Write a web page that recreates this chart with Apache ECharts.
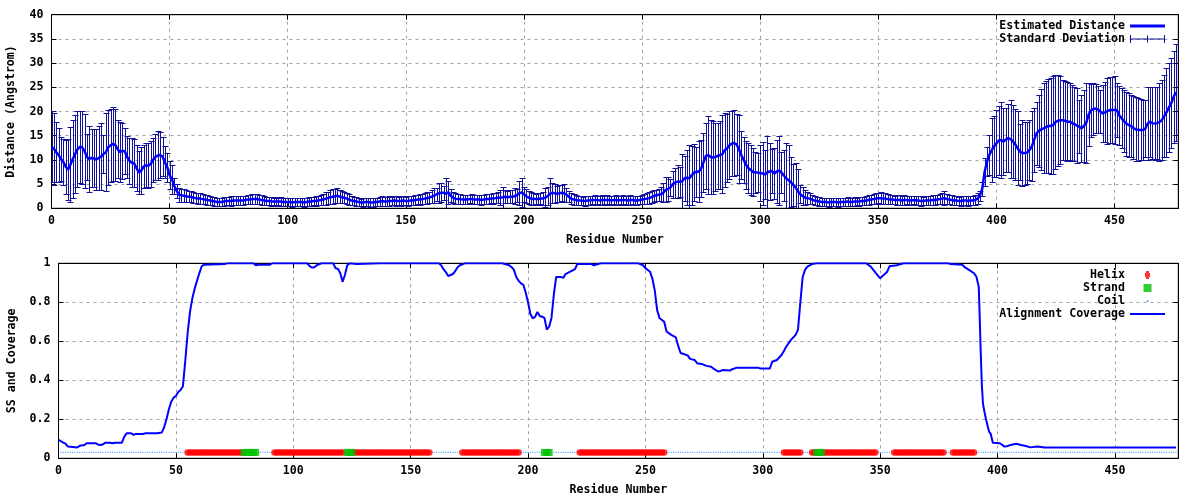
<!DOCTYPE html>
<html>
<head>
<meta charset="utf-8">
<script src="https://cdn.jsdelivr.net/npm/echarts@6/dist/echarts.min.js"></script>
<style>html,body{margin:0;padding:0;background:#fff}#chart{width:1200px;height:500px}</style>
</head>
<body>
<div id="chart"></div>
<script>
// ---------------- DATA ----------------
// residue range of both panels
const residueMax = 477;

// Estimated distance (Angstrom) for residues 0..476 (index = residue)
const distance = [
 12.7,12.3,11.6,11.0,10.2,9.6,8.6,8.0,9.0,10.2,
 11.2,12.2,12.7,12.6,11.8,10.6,10.2,10.4,10.3,10.1,
 10.4,10.7,11.2,11.6,12.6,13.0,13.3,13.1,12.2,11.6,
 11.9,11.8,10.6,9.8,9.4,9.3,8.3,7.4,7.8,8.6,
 8.9,8.8,9.2,10.0,10.6,10.9,11.0,10.7,9.5,8.5,
 6.8,6.0,4.6,3.6,2.8,2.7,2.6,2.5,2.4,2.4,
 2.2,2.1,2.0,2.0,1.9,1.8,1.7,1.6,1.5,1.4,
 1.3,1.3,1.3,1.4,1.5,1.5,1.5,1.6,1.6,1.6,
 1.6,1.6,1.7,1.8,1.8,1.9,1.9,1.9,1.8,1.7,
 1.6,1.5,1.5,1.4,1.4,1.4,1.4,1.4,1.3,1.3,
 1.3,1.3,1.2,1.3,1.3,1.3,1.3,1.2,1.3,1.4,
 1.4,1.5,1.5,1.6,1.7,1.8,2.0,2.1,2.3,2.4,
 2.5,2.6,2.4,2.3,2.2,2.0,1.8,1.6,1.5,1.4,
 1.3,1.2,1.2,1.3,1.3,1.2,1.2,1.3,1.3,1.4,
 1.5,1.4,1.4,1.5,1.5,1.6,1.5,1.5,1.5,1.6,
 1.5,1.5,1.6,1.6,1.7,1.8,1.8,1.9,2.0,2.1,
 2.2,2.4,2.6,2.9,3.1,3.2,3.2,3.0,3.3,2.6,
 2.2,2.0,1.9,1.9,1.8,1.8,1.8,1.9,1.9,1.8,
 1.8,1.8,1.7,1.8,1.9,1.9,2.0,2.0,2.1,2.2,
 2.2,2.3,2.4,2.3,2.4,2.4,2.5,2.7,3.1,3.3,
 2.9,2.5,2.2,2.0,1.9,1.9,1.9,2.0,2.0,2.2,
 2.5,3.0,3.2,3.1,3.0,3.1,3.2,3.1,2.8,2.4,
 2.0,1.8,1.7,1.6,1.6,1.5,1.5,1.6,1.6,1.7,
 1.7,1.7,1.6,1.7,1.7,1.7,1.7,1.6,1.7,1.7,
 1.6,1.7,1.7,1.7,1.6,1.7,1.7,1.6,1.6,1.7,
 1.8,1.9,2.0,2.1,2.3,2.5,2.7,2.8,2.9,3.2,
 3.8,4.0,4.3,5.0,5.3,5.5,5.5,5.6,6.2,6.3,
 6.2,6.8,7.4,7.5,7.6,8.2,9.5,10.8,11.0,10.6,
 10.5,10.6,10.8,11.0,11.2,12.0,12.4,13.0,13.4,13.5,
 13.2,12.2,11.0,10.0,9.0,8.3,7.9,7.5,7.4,7.4,
 7.3,7.2,7.0,7.4,7.6,7.7,7.2,7.6,7.8,7.4,
 6.8,6.2,5.8,5.4,4.8,4.3,3.5,2.9,2.5,2.2,
 2.1,2.0,1.8,1.6,1.5,1.4,1.3,1.3,1.3,1.2,
 1.3,1.3,1.3,1.2,1.3,1.3,1.3,1.4,1.3,1.3,
 1.4,1.4,1.4,1.5,1.5,1.6,1.7,1.8,1.9,2.0,
 2.1,2.1,2.0,2.0,1.9,1.8,1.8,1.7,1.7,1.7,
 1.6,1.7,1.7,1.6,1.6,1.7,1.6,1.6,1.5,1.5,
 1.6,1.6,1.6,1.7,1.7,1.8,1.9,2.0,2.1,1.9,
 1.8,1.7,1.6,1.6,1.5,1.5,1.6,1.6,1.5,1.6,
 1.6,1.7,2.0,2.6,4.0,7.5,9.6,11.0,12.0,12.8,
 13.4,14.0,14.1,13.8,14.2,14.5,14.3,13.8,13.2,12.4,
 11.7,11.4,11.4,11.5,12.0,12.8,14.2,15.5,16.0,16.3,
 16.5,16.8,17.0,17.0,17.2,17.8,18.1,18.2,18.2,18.1,
 17.9,17.9,17.6,17.4,17.1,16.9,16.5,17.0,17.6,19.3,
 20.2,20.5,20.6,20.4,20.0,19.6,19.8,20.1,20.3,20.3,
 20.3,20.3,19.2,18.6,18.0,17.5,17.2,17.0,16.6,16.3,
 16.2,16.2,16.2,16.4,17.5,17.9,17.6,17.5,17.6,17.8,
 18.2,19.0,19.8,20.8,21.7,23.0,24.0
];

// Standard deviation for residues 0..476
const stdDev = [
 7.3,7.4,6.2,5.5,4.5,4.8,5.6,6.3,7.8,8.0,
 8.0,7.8,7.5,7.6,7.6,4.8,6.8,6.0,6.0,6.3,
 6.6,7.0,4.0,8.0,7.7,7.5,7.6,7.5,6.0,6.2,
 5.8,4.8,4.3,4.7,5.1,5.0,4.8,4.5,4.9,4.5,
 4.5,4.6,4.7,4.5,4.8,5.0,4.8,4.0,3.3,3.0,
 2.9,3.0,1.6,1.5,1.4,1.3,1.3,1.3,1.2,1.2,
 1.1,1.1,1.1,1.2,1.0,1.0,1.0,0.9,0.9,0.9,
 0.8,0.9,0.9,1.0,0.9,0.9,1.0,1.0,0.9,0.9,
 1.0,1.0,0.9,1.0,1.0,1.0,1.0,1.1,1.0,1.0,
 0.9,0.9,0.9,0.9,0.8,0.9,0.8,0.9,0.8,0.8,
 0.9,0.8,0.9,0.8,0.8,0.9,0.8,0.9,0.9,0.9,
 1.0,0.9,1.0,1.0,1.1,1.2,1.3,1.3,1.4,1.5,
 1.4,1.5,1.3,1.3,1.2,1.1,1.1,1.0,0.9,0.9,
 0.9,0.8,0.9,0.9,0.8,0.9,0.9,0.9,0.8,0.9,
 1.0,0.9,0.9,1.0,0.9,1.0,1.0,0.9,1.0,1.0,
 0.9,1.0,1.0,0.9,1.0,1.0,1.1,1.0,1.1,1.2,
 1.2,1.4,1.6,1.3,2.1,2.0,1.5,3.2,2.4,1.4,
 1.2,1.1,1.0,1.0,0.9,1.0,1.0,0.9,1.0,1.0,
 0.9,1.0,1.0,0.9,1.0,1.0,1.0,1.1,1.1,1.2,
 1.5,2.2,1.3,1.2,1.4,1.3,1.6,1.3,2.5,3.0,
 1.6,1.4,1.3,1.3,1.2,1.1,1.2,1.2,1.3,1.9,
 1.8,3.2,2.1,2.0,1.7,1.8,1.6,1.9,1.4,1.2,
 1.1,1.1,1.0,1.0,1.0,0.9,1.0,0.9,1.0,0.9,
 1.0,0.9,1.0,1.0,0.9,1.0,0.9,1.0,0.9,1.0,
 1.0,0.9,1.0,0.9,1.0,1.0,0.9,1.0,1.0,0.9,
 1.0,1.0,1.1,1.2,1.2,1.3,1.1,1.2,1.4,2.0,
 2.6,2.5,1.7,2.8,3.1,3.4,3.1,5.7,4.7,5.7,
 6.8,6.1,5.9,5.1,6.3,5.9,6.1,6.8,8.0,7.6,
 7.5,7.1,6.8,7.0,8.0,7.6,7.0,7.0,6.8,6.8,
 6.3,7.0,5.0,4.8,5.0,5.1,5.1,4.9,4.2,4.1,
 5.7,6.6,5.0,7.6,5.8,4.5,5.3,6.5,7.1,4.3,
 5.2,7.2,7.2,5.1,4.4,5.0,4.7,1.9,1.8,1.6,
 1.3,1.1,1.0,1.0,0.9,0.9,0.9,0.8,0.9,0.9,
 0.8,0.9,0.8,0.9,0.9,0.8,0.9,0.9,0.8,0.9,
 0.9,0.8,0.9,0.9,0.9,1.0,1.0,1.0,1.1,1.1,
 1.1,1.2,1.1,1.1,1.0,1.0,1.0,0.9,1.0,1.0,
 0.9,1.0,0.9,1.0,1.0,0.9,1.0,0.9,1.0,0.9,
 1.0,0.9,1.0,1.0,1.0,1.0,1.1,1.2,1.5,1.1,
 1.0,1.0,0.9,1.0,0.9,1.0,1.0,0.9,1.0,1.0,
 1.0,1.0,1.1,1.0,1.5,2.8,3.0,4.2,6.6,6.3,
 6.9,7.2,7.9,6.9,6.6,7.0,8.0,7.6,7.4,7.6,
 5.8,6.8,6.5,6.4,6.2,7.2,6.6,6.5,7.5,8.3,
 9.3,9.5,9.7,10.0,10.1,9.7,9.4,9.1,8.3,8.2,
 8.1,7.9,7.8,7.7,7.7,5.5,6.9,7.4,8.2,6.5,
 5.5,5.4,5.0,4.9,4.4,5.9,6.2,6.8,6.9,6.9,
 7.0,5.5,6.1,6.2,6.4,6.6,6.6,6.4,6.5,6.6,
 6.5,6.3,6.2,5.9,7.5,7.2,7.5,7.5,7.4,8.0,
 8.3,8.5,9.1,9.2,9.3,9.6,10.0
];

// Alignment coverage (read at residues where the curve changes)
const coverageResidue = [
 0,2,3,4,8,9,11,12,16,17,18,19,20,22,23,24,27,28,29,31,32,33,36,37,42,44,45,46,47,48,49,50,51,52,53,54,55,56,57,58,59,60,61,62,71,72,
 83,84,85,90,91,106,107,108,109,110,111,112,117,118,119,120,121,122,123,124,127,137,162,163,164,165,166,167,168,169,170,171,173,
 189,192,193,194,195,196,197,198,199,200,201,202,203,204,205,206,207,208,209,210,211,212,214,215,216,218,220,221,227,228,231,
 247,249,250,252,253,254,255,256,258,259,261,263,264,265,268,269,271,272,274,276,278,279,281,282,283,286,287,289,298,299,303,
 304,306,308,309,310,312,314,315,316,317,318,319,321,323,344,346,348,350,351,352,353,354,357,360,379,380,385,386,388,390,391,
 392,392.4,392.8,393.3,393.8,394.4,395,395.7,396.4,397.1,398,401,403,404,406,408,410,412,414,417,420,476
];
const coverageValue = [
 0.095,0.08,0.075,0.06,0.056,0.064,0.068,0.077,0.077,0.07,0.068,0.072,0.08,0.08,0.077,0.08,0.08,0.11,0.128,0.128,0.12,0.125,0.125,0.128,0.128,0.132,0.16,0.2,0.25,0.29,0.31,0.32,0.34,0.35,0.37,0.5,0.64,0.75,0.82,0.87,0.91,0.95,0.985,0.993,0.997,1.0,
 1.0,0.99,0.993,0.993,1.0,1.0,0.985,0.978,0.98,0.99,0.995,1.0,1.0,0.975,0.972,0.95,0.905,0.94,0.99,1.0,0.996,1.0,1.0,0.99,0.97,0.955,0.935,0.94,0.945,0.96,0.98,0.99,1.0,
 1.0,0.99,0.98,0.966,0.93,0.91,0.897,0.89,0.85,0.8,0.74,0.718,0.725,0.75,0.73,0.726,0.72,0.66,0.675,0.72,0.84,0.93,0.93,0.925,0.945,0.957,0.97,0.996,0.996,0.99,1.0,
 1.0,0.99,0.975,0.957,0.92,0.86,0.76,0.72,0.70,0.65,0.633,0.62,0.575,0.54,0.528,0.51,0.504,0.488,0.484,0.474,0.47,0.46,0.445,0.448,0.453,0.45,0.457,0.465,0.465,0.46,0.46,
 0.495,0.504,0.53,0.55,0.573,0.607,0.633,0.66,0.8,0.93,0.966,0.983,0.996,1.0,1.0,0.983,0.952,0.923,0.935,0.945,0.957,0.985,0.99,1.0,1.0,0.996,0.993,0.98,0.965,0.949,0.931,
 0.88,0.726,0.56,0.38,0.28,0.24,0.205,0.17,0.137,0.125,0.08,0.077,0.06,0.062,0.07,0.075,0.068,0.063,0.056,0.06,0.055,0.055
];

// Secondary structure (residue ranges), drawn at level ssLevel
const helixRanges  = [[55,78],[92,121],[126,158],[172,196],[222,258],[309,316],[321,322],[326,348],[356,377],[381,390]];
const strandRanges = [[79,84],[123,125],[207,209],[323,325]];
const coilResidues = [1, 476]; // first and last residue of the sequence
const ssLevel = 0.03;

// ---------------- BUILD ----------------
const inRanges = (r, ranges) => ranges.some(([a, b]) => r >= a && r <= b);
const expand = ranges => { const out = []; ranges.forEach(([a, b]) => { for (let r = a; r <= b; r++) out.push([r, ssLevel]); }); return out; };
const helixPts = expand(helixRanges);
const strandPts = expand(strandRanges);
const coilPts = [];
for (let r = coilResidues[0]; r <= coilResidues[1]; r++) if (!inRanges(r, helixRanges) && !inRanges(r, strandRanges)) coilPts.push([r, ssLevel]);

const FONT = { fontFamily: 'DejaVu Sans Mono', fontWeight: 'bold', fontSize: 11.6, color: '#000' };
const BAR = '#10109a';
const LINE = '#0000ff';
const COIL = '#1e8cff';

const ICON_LINE3 = 'path://M0,0h35v3h-35z';
const ICON_LINE2 = 'path://M0,0h35v2h-35z';
const ICON_ERR = 'path://M0,3.5h35v1h-35z M0,0h1v8h-1z M17,0.5h1v7h-1z M34,0h1v8h-1z';
const ICON_HELIX = 'path://M1,0h3v2h1v4h-1v2h-3v-2h-1v-4h1z';
const ICON_STRAND = 'path://M0,0h7v7h-7z';
const ICON_COIL = 'path://M0,0L0.01,0 M8,8L8.01,8 M3.2,3.2h1.8v1.8h-1.8z';

function xAxisBase(grid) {
  return {
    gridIndex: grid, type: 'value', min: 0, max: residueMax, interval: 50, position: 'bottom',
    axisLine: { show: true, onZero: false, lineStyle: { color: '#000', width: 1 } },
    axisTick: { show: true, inside: true, length: 5, lineStyle: { color: '#000' } },
    axisLabel: Object.assign({ margin: 7, showMaxLabel: false }, FONT),
    splitLine: { show: true, showMinLine: false, showMaxLine: false, lineStyle: { color: '#a0a0a0', width: 1, type: [3, 4] } },
    name: 'Residue Number', nameLocation: 'middle', nameGap: 26, nameTextStyle: FONT
  };
}
function xAxisMirror(grid) {
  return {
    gridIndex: grid, type: 'value', min: 0, max: residueMax, interval: 50, position: 'top',
    axisLine: { show: true, onZero: false, lineStyle: { color: '#000', width: 1 } },
    axisTick: { show: true, inside: true, length: 5, lineStyle: { color: '#000' } },
    axisLabel: { show: false }, splitLine: { show: false }
  };
}
function yAxisBase(grid, max, interval, name, gap) {
  return {
    gridIndex: grid, type: 'value', min: 0, max: max, interval: interval, position: 'left',
    axisLine: { show: true, onZero: false, lineStyle: { color: '#000', width: 1 } },
    axisTick: { show: true, inside: true, length: 5, lineStyle: { color: '#000' } },
    axisLabel: Object.assign({ margin: 8 }, FONT),
    splitLine: { show: true, showMinLine: false, showMaxLine: false, lineStyle: { color: '#a0a0a0', width: 1, type: [3, 4] } },
    name: name, nameLocation: 'middle', nameGap: gap, nameRotate: 90, nameTextStyle: FONT
  };
}
function yAxisMirror(grid, max, interval) {
  return {
    gridIndex: grid, type: 'value', min: 0, max: max, interval: interval, position: 'right',
    axisLine: { show: true, onZero: false, lineStyle: { color: '#000', width: 1 } },
    axisTick: { show: true, inside: true, length: 5, lineStyle: { color: '#000' } },
    axisLabel: { show: false }, splitLine: { show: false }
  };
}

const legendCommon = {
  orient: 'vertical', align: 'right', right: 35, itemWidth: 35, itemHeight: 8, itemGap: 0, padding: 0,
  symbolKeepAspect: true, selectedMode: false,
  itemStyle: { borderWidth: 0 },
  textStyle: Object.assign({ lineHeight: 13 }, FONT)
};

const option = {
  animation: false,
  backgroundColor: '#fff',
  grid: [
    { left: 51.5, top: 14.7, width: 1126.8, height: 193.6, show: true, borderColor: '#000', borderWidth: 1, backgroundColor: 'transparent', containLabel: false, outerBoundsMode: 'none' },
    { left: 58.5, top: 263.3, width: 1119.8, height: 195, show: true, borderColor: '#000', borderWidth: 1, backgroundColor: 'transparent', containLabel: false, outerBoundsMode: 'none' }
  ],
  xAxis: [xAxisBase(0), xAxisBase(1), xAxisMirror(0), xAxisMirror(1)],
  yAxis: [
    yAxisBase(0, 40, 5, 'Distance (Angstrom)', 35),
    yAxisBase(1, 1, 0.2, 'SS and Coverage', 41),
    yAxisMirror(0, 40, 5),
    yAxisMirror(1, 1, 0.2)
  ],
  legend: [
    Object.assign({}, legendCommon, {
      top: 19.5,
      data: [{ name: 'Estimated Distance', icon: ICON_LINE3 }, { name: 'Standard Deviation', icon: ICON_ERR }]
    }),
    Object.assign({}, legendCommon, {
      top: 268.5,
      data: [{ name: 'Helix', icon: ICON_HELIX }, { name: 'Strand', icon: ICON_STRAND }, { name: 'Coil', icon: ICON_COIL }, { name: 'Alignment Coverage', icon: ICON_LINE2 }]
    })
  ],
  series: [
    {
      name: 'Standard Deviation', type: 'custom', xAxisIndex: 0, yAxisIndex: 0, z: 2, clip: true,
      itemStyle: { color: BAR },
      encode: { x: 0, y: 1 },
      data: distance.map((d, i) => [i, d, stdDev[i]]),
      renderItem: function (params, api) {
        const x = api.value(0), m = api.value(1), s = api.value(2);
        const top = api.coord([x, m + s]);
        const bot = api.coord([x, m - s]);
        const px = Math.round(top[0]) + 0.5;
        const yt = Math.round(top[1]) + 0.5, yb = Math.round(bot[1]) + 0.5;
        const st = { stroke: BAR, lineWidth: 1 };
        return {
          type: 'group', children: [
            { type: 'line', shape: { x1: px, y1: yt, x2: px, y2: yb }, style: st },
            { type: 'line', shape: { x1: px - 3, y1: yt, x2: px + 3, y2: yt }, style: st },
            { type: 'line', shape: { x1: px - 3, y1: yb, x2: px + 3, y2: yb }, style: st }
          ]
        };
      }
    },
    {
      name: 'Estimated Distance', type: 'line', xAxisIndex: 0, yAxisIndex: 0, z: 3,
      data: distance.map((d, i) => [i, d]),
      symbol: 'none', lineStyle: { color: LINE, width: 2.5 }, itemStyle: { color: LINE }
    },
    {
      name: 'Helix', type: 'scatter', xAxisIndex: 1, yAxisIndex: 1, z: 3,
      data: helixPts, symbol: 'circle', symbolSize: 6.5, itemStyle: { color: '#ff0000' }
    },
    {
      name: 'Strand', type: 'scatter', xAxisIndex: 1, yAxisIndex: 1, z: 4,
      data: strandPts, symbol: 'rect', symbolSize: [7, 7], itemStyle: { color: '#00c000' }
    },
    {
      name: 'Coil', type: 'scatter', xAxisIndex: 1, yAxisIndex: 1, z: 2,
      data: coilPts, symbol: 'rect', symbolSize: [1, 1.2], itemStyle: { color: COIL }
    },
    {
      name: 'Alignment Coverage', type: 'line', xAxisIndex: 1, yAxisIndex: 1, z: 5,
      data: coverageResidue.map((r, i) => [r, coverageValue[i]]),
      symbol: 'none', lineStyle: { color: LINE, width: 2 }, itemStyle: { color: LINE }
    }
  ]
};

const chart = echarts.init(document.getElementById('chart'), null, { renderer: 'canvas' });
chart.setOption(option);
</script>
</body>
</html>
